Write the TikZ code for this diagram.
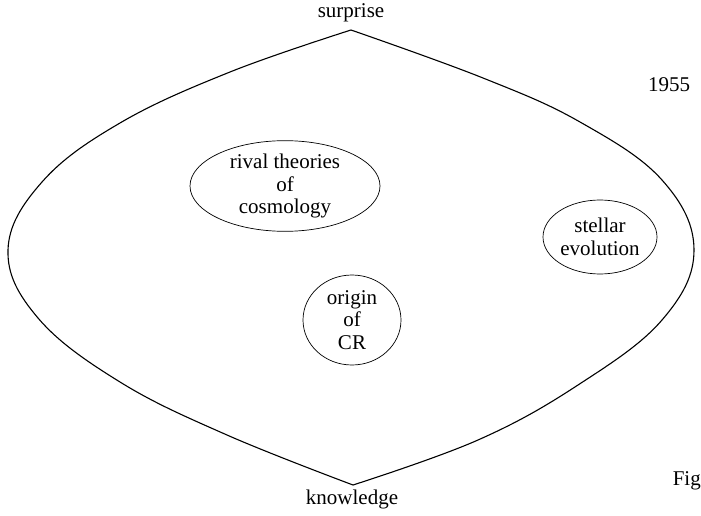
\documentclass[tikz,border=0pt]{standalone}
\usepackage{fontspec}
\setmainfont{Liberation Serif}
\usetikzlibrary{shapes.geometric}

\begin{document}
\begin{tikzpicture}[x=1pt, y=1pt,
    field/.style={draw, line width=0.7pt, ellipse, inner sep=0pt, align=center,
        font=\fontsize{21}{22.5}\selectfont},
    label/.style={font=\fontsize{21}{22.5}\selectfont}]
    % Define frame
    \useasboundingbox (0,0) rectangle (701,515);
    
    % Apex points
    \coordinate (top) at (351,485);
    \coordinate (bottom) at (353,30);
    
    % Outer leaf shape, left and right halves
    \draw[line width=1.1pt] plot[smooth, tension=0.65] coordinates {(top) (230,443) (120,392) (42,333) (8,265) (38,197) (120,133) (227,80) (bottom)};
    \draw[line width=1.1pt] plot[smooth, tension=0.65] coordinates {(top) (483,437) (580,393) (662,335) (694,265) (662,195) (578,130) (478,75) (bottom)};
    
    % Axis labels
    \node[label] (surprise) at (351,502) {surprise};
    \node[label] (knowledge) at (352,16) {knowledge};
    \node[font=\fontsize{21}{24}\selectfont] (year) at (669,430) {1955};
    \node[label, anchor=east, inner sep=0pt] (fig) at (701,34) {Fig};
    
    % Research fields
    \node[field, minimum width=190, minimum height=82] (cosmology) at (285,329) {rival theories\\of\\cosmology};
    \node[field, minimum width=114, minimum height=74] (stellar) at (600,278) {stellar\\evolution};
    \node[field, minimum width=98, minimum height=90] (origin) at (352,195) {origin\\of\\CR};
    
\end{tikzpicture}
\end{document}
